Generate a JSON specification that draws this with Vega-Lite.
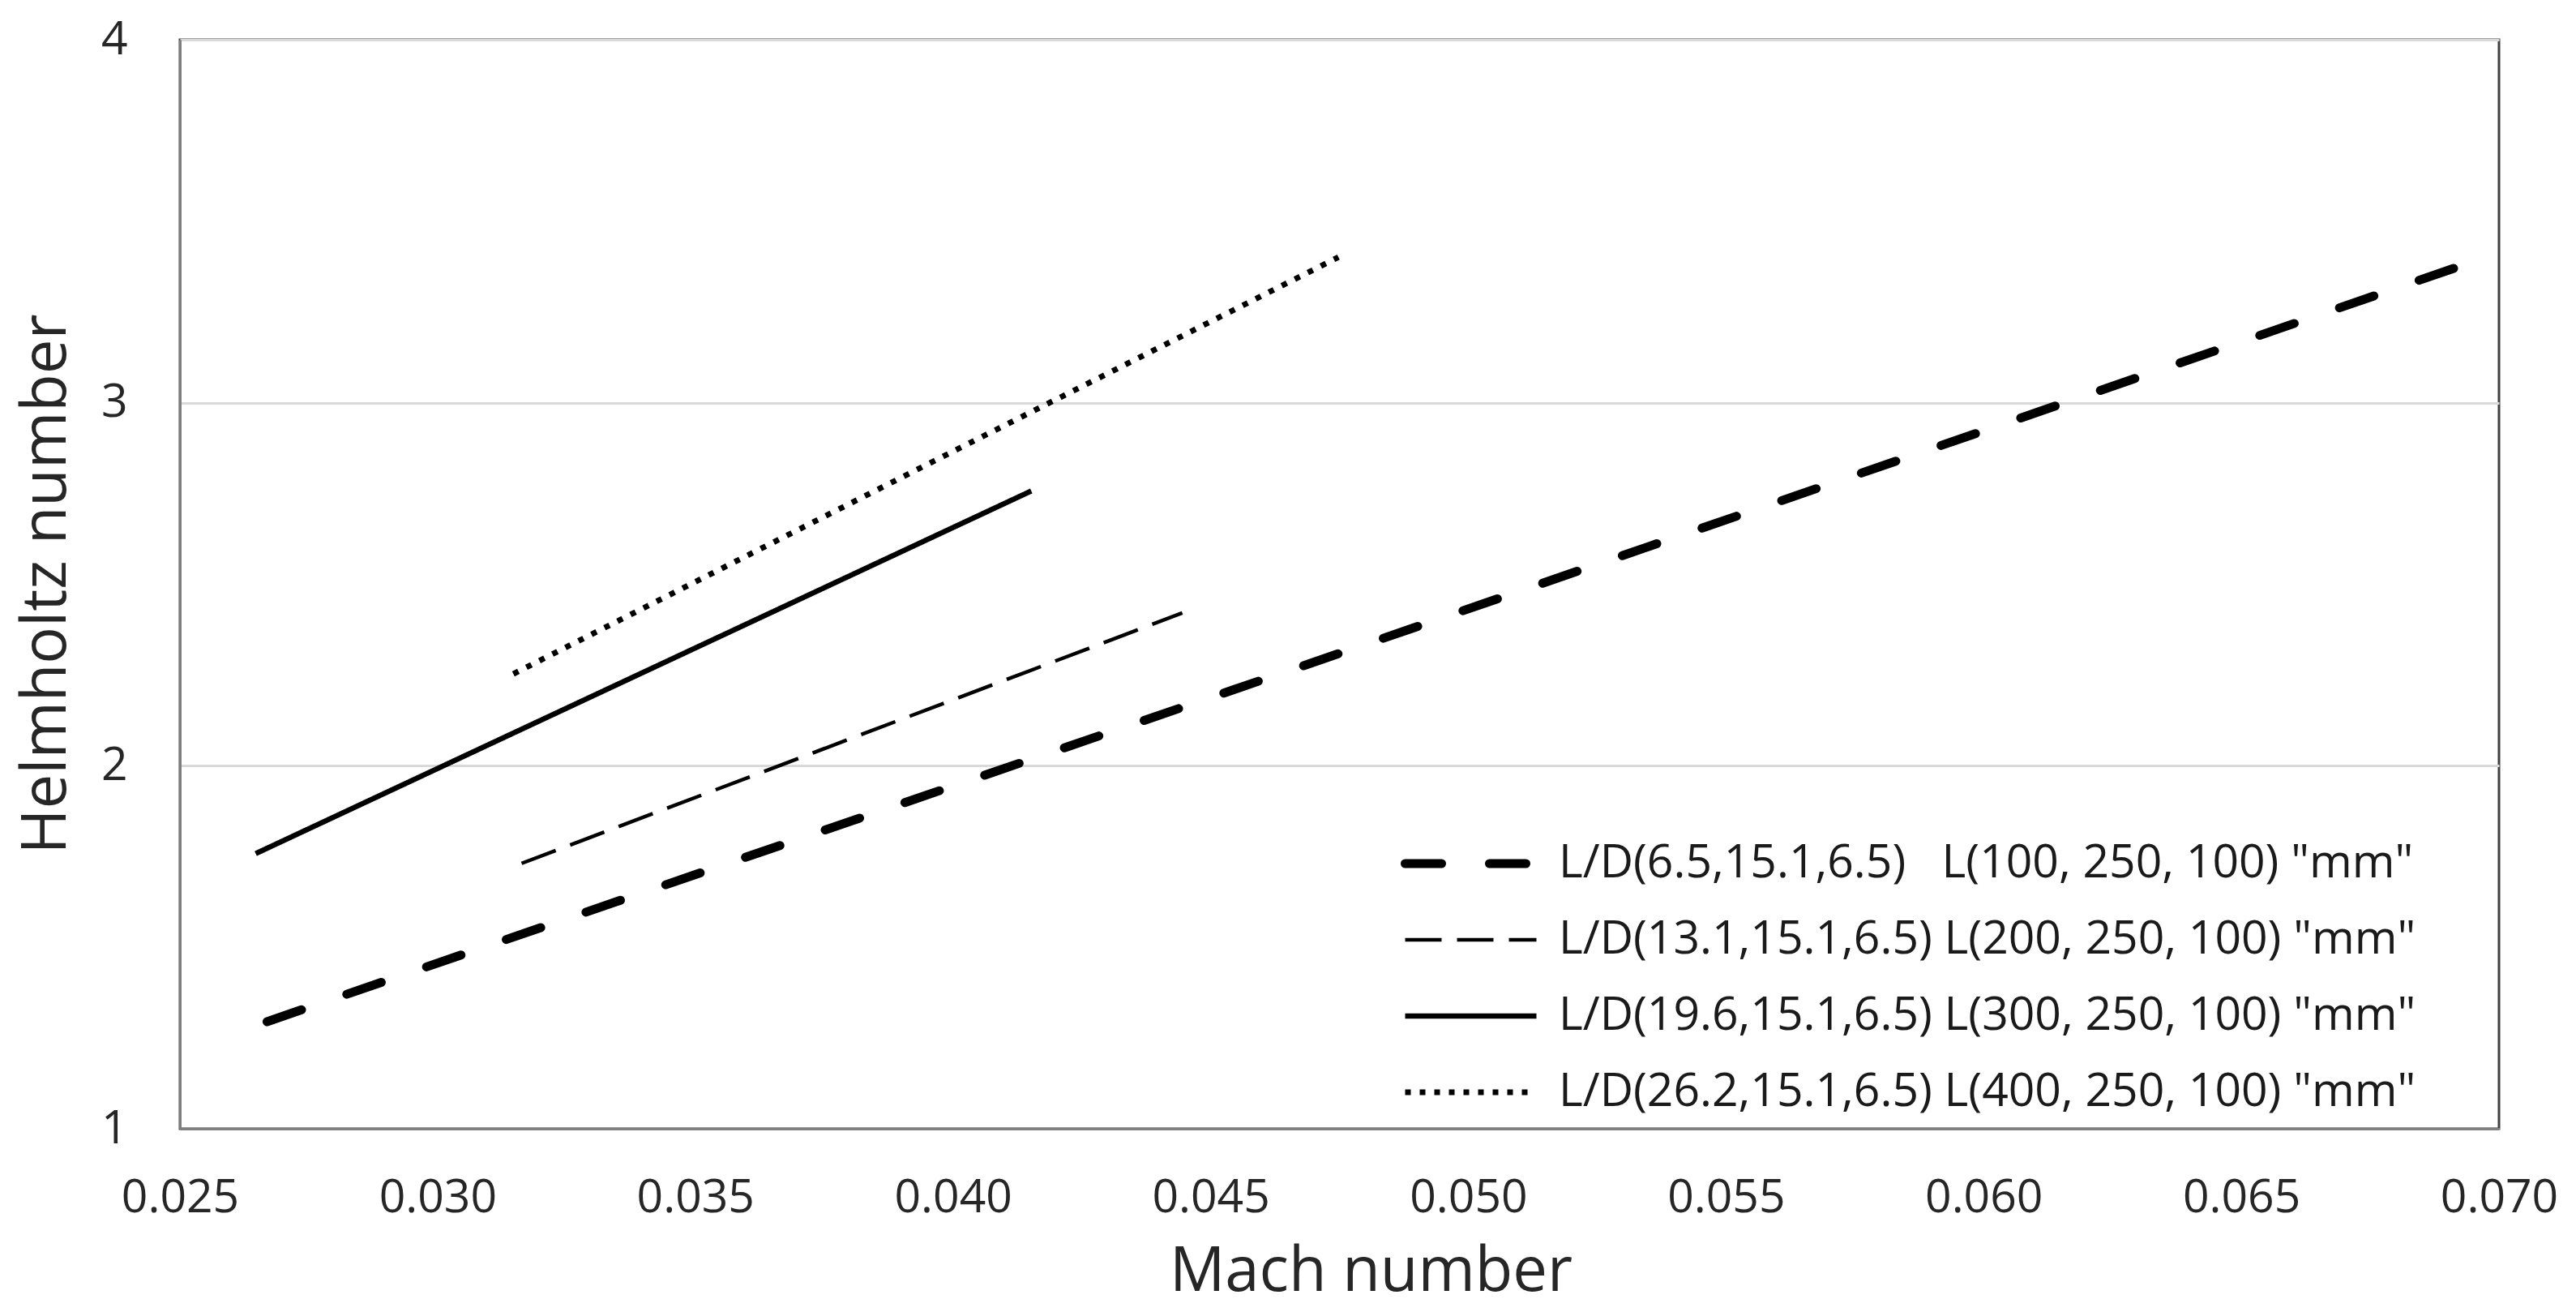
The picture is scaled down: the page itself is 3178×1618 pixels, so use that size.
{
  "$schema": "https://vega.github.io/schema/vega-lite/v6.json",
  "width": 2861,
  "height": 1343,
  "autosize": {"type": "none"},
  "padding": {"left": 222, "top": 49, "right": 95, "bottom": 226},
  "background": "white",
  "config": {
    "font": "Open Sans",
    "view": {"stroke": "#404040", "strokeWidth": 3}
  },
  "data": {
    "values": [
      {"s": "L/D(6.5,15.1,6.5)\u00a0\u00a0 L(100, 250, 100) \"mm\"", "m": 0.02669, "h": 1.295},
      {"s": "L/D(6.5,15.1,6.5)\u00a0\u00a0 L(100, 250, 100) \"mm\"", "m": 0.0480, "h": 2.334},
      {"s": "L/D(6.5,15.1,6.5)\u00a0\u00a0 L(100, 250, 100) \"mm\"", "m": 0.0693, "h": 3.379},
      {"s": "L/D(13.1,15.1,6.5) L(200, 250, 100) \"mm\"", "m": 0.03163, "h": 1.731},
      {"s": "L/D(13.1,15.1,6.5) L(200, 250, 100) \"mm\"", "m": 0.0380, "h": 2.074},
      {"s": "L/D(13.1,15.1,6.5) L(200, 250, 100) \"mm\"", "m": 0.04445, "h": 2.421},
      {"s": "L/D(19.6,15.1,6.5) L(300, 250, 100) \"mm\"", "m": 0.02647, "h": 1.758},
      {"s": "L/D(19.6,15.1,6.5) L(300, 250, 100) \"mm\"", "m": 0.0340, "h": 2.258},
      {"s": "L/D(19.6,15.1,6.5) L(300, 250, 100) \"mm\"", "m": 0.04152, "h": 2.757},
      {"s": "L/D(26.2,15.1,6.5) L(400, 250, 100) \"mm\"", "m": 0.03147, "h": 2.253},
      {"s": "L/D(26.2,15.1,6.5) L(400, 250, 100) \"mm\"", "m": 0.0395, "h": 2.830},
      {"s": "L/D(26.2,15.1,6.5) L(400, 250, 100) \"mm\"", "m": 0.04748, "h": 3.401}
    ]
  },
  "encoding": {
    "x": {
      "field": "m", "type": "quantitative",
      "scale": {"domain": [0.025, 0.07], "nice": false, "zero": false},
      "axis": {
        "title": "Mach number",
        "values": [0.025, 0.03, 0.035, 0.04, 0.045, 0.05, 0.055, 0.06, 0.065, 0.07],
        "format": ".3f", "grid": false, "ticks": false, "tickSize": 0,
        "labelPadding": 85, "labelBaseline": "middle", "labelFlush": false, "labelOverlap": false,
        "labelFontSize": 57, "labelFont": "Open Sans", "labelColor": "#262626",
        "domainColor": "#7f7f7f", "domainWidth": 3,
        "titleFontSize": 76, "titleFont": "Open Sans", "titleFontWeight": "normal", "titleColor": "#262626",
        "titleX": 1469, "titleY": 176, "titleBaseline": "middle", "titleAlign": "center"
      }
    },
    "y": {
      "field": "h", "type": "quantitative",
      "scale": {"domain": [1, 4], "nice": false, "zero": false},
      "axis": {
        "title": "Helmholtz number",
        "values": [1, 2, 3, 4], "format": "d",
        "grid": true, "gridColor": "#d9d9d9", "gridWidth": 3,
        "ticks": false, "tickSize": 0, "labelPadding": 65, "labelFlush": false, "labelOverlap": false,
        "labelFontSize": 57, "labelFont": "Open Sans", "labelColor": "#262626",
        "domainColor": "#7f7f7f", "domainWidth": 3,
        "titleFontSize": 76, "titleFont": "Open Sans", "titleFontWeight": "normal", "titleColor": "#262626",
        "titleX": -165, "titleY": 671, "titleBaseline": "middle", "titleAlign": "center"
      }
    },
    "strokeDash": {
      "field": "s", "type": "nominal",
      "scale": {
        "domain": [
          "L/D(6.5,15.1,6.5)\u00a0\u00a0 L(100, 250, 100) \"mm\"",
          "L/D(13.1,15.1,6.5) L(200, 250, 100) \"mm\"",
          "L/D(19.6,15.1,6.5) L(300, 250, 100) \"mm\"",
          "L/D(26.2,15.1,6.5) L(400, 250, 100) \"mm\""
        ],
        "range": [[45, 59], [45, 19], [1, 0], [7, 11]]
      },
      "legend": {
        "title": null, "orient": "none", "legendX": 1506, "legendY": 991,
        "symbolType": "stroke", "symbolSize": 26244, "symbolStrokeColor": "black",
        "labelFontSize": 57, "labelFont": "Open Sans", "labelColor": "#1a1a1a", "labelLimit": 3000,
        "labelOffset": 22, "rowPadding": 37, "clipHeight": 50, "padding": 0,
        "encode": {"symbols": {"update": {"strokeCap": {"signal": "indexof(datum.value, 'L/D(6.5') === 0 ? 'round' : 'butt'"}}}}
      }
    },
    "strokeWidth": {
      "field": "s", "type": "nominal",
      "scale": {
        "type": "ordinal",
        "domain": [
          "L/D(6.5,15.1,6.5)\u00a0\u00a0 L(100, 250, 100) \"mm\"",
          "L/D(13.1,15.1,6.5) L(200, 250, 100) \"mm\"",
          "L/D(19.6,15.1,6.5) L(300, 250, 100) \"mm\"",
          "L/D(26.2,15.1,6.5) L(400, 250, 100) \"mm\""
        ],
        "range": [11, 4.5, 6.5, 7]
      },
      "legend": {
        "title": null, "orient": "none", "legendX": 1506, "legendY": 991,
        "symbolType": "stroke", "symbolSize": 26244, "symbolStrokeColor": "black",
        "labelFontSize": 57, "labelFont": "Open Sans", "labelColor": "#1a1a1a", "labelLimit": 3000,
        "labelOffset": 22, "rowPadding": 37, "clipHeight": 50, "padding": 0,
        "encode": {"symbols": {"update": {"strokeCap": {"signal": "indexof(datum.value, 'L/D(6.5') === 0 ? 'round' : 'butt'"}}}}
      }
    }
  },
  "layer": [
    {
      "transform": [{"filter": {"field": "s", "equal": "L/D(6.5,15.1,6.5)\u00a0\u00a0 L(100, 250, 100) \"mm\""}}],
      "mark": {"type": "line", "color": "black", "strokeCap": "round"}
    },
    {
      "transform": [{"filter": {"not": {"field": "s", "equal": "L/D(6.5,15.1,6.5)\u00a0\u00a0 L(100, 250, 100) \"mm\""}}}],
      "mark": {"type": "line", "color": "black", "strokeCap": "butt"}
    }
  ]
}
